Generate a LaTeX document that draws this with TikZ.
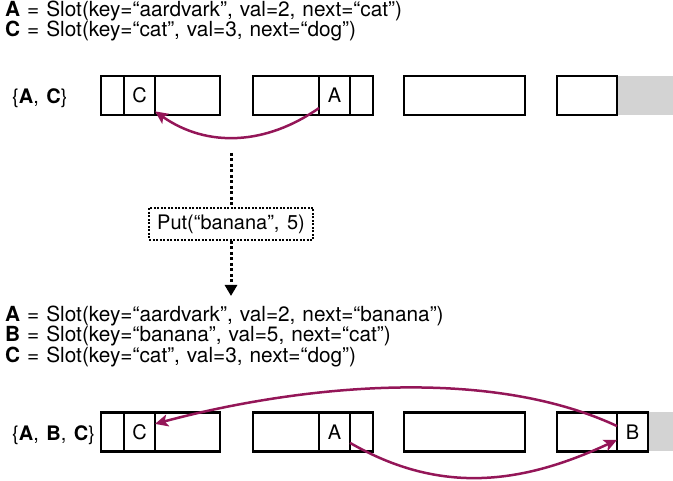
\documentclass[tikz,border=0pt]{standalone}
\usepackage{fontspec}
\setmainfont{TeX Gyre Heros}
\usetikzlibrary{arrows.meta,positioning,calc}
\definecolor{ptrcolor}{RGB}{148, 22, 88}
\definecolor{freegray}{RGB}{211, 211, 211}
\newcommand{\slotfont}{\fontsize{20}{24}\selectfont\spaceskip 7.5pt\relax}

\begin{document}
\begin{tikzpicture}[x=1pt, y=-1pt, >=Stealth,
		font=\slotfont,
		cell/.style={draw, line width=2.8pt, inner sep=0pt, outer sep=0pt, minimum height=39pt, anchor=west},
		freecell/.style={fill=freegray, inner sep=0pt, outer sep=0pt, minimum height=39pt, anchor=west},
		txt/.style={anchor=base west, inner sep=0pt},
		slottxt/.style={txt, font=\fontsize{20.8}{24}\selectfont\spaceskip 7pt\relax},
		ptr/.style={line width=2.5pt, color=ptrcolor, -{Stealth[length=13pt, width=12pt, inset=3pt]}},
		dotline/.style={line width=3pt, dash pattern=on 3pt off 2.5pt},
		opbox/.style={draw, line width=2pt, dash pattern=on 2pt off 1.5pt, minimum width=164pt, minimum height=32pt, inner sep=0pt}
		]
	\useasboundingbox (0,0) rectangle (673,481);
	
	% slots before the insert
	\node[slottxt] (slotA1) at (5,17) {\textbf{A} = Slot(key=“aardvark”, val=2, next=“cat”)};
	\node[slottxt] (slotC1) at (5,37) {\textbf{C} = Slot(key=“cat”, val=3, next=“dog”)};
	
	\node[txt] (set1) at (12,104) {\{\textbf{A}, \textbf{C}\}};
	\node[freecell, minimum width=56pt] (tab1-9) at (617,95.5) {};
	\node[cell, minimum width=23pt] (tab1-1) at (101,95.5) {};
	\node[cell, minimum width=31pt] (tab1-2) at (124,95.5) {C};
	\node[cell, minimum width=65pt] (tab1-3) at (155,95.5) {};
	\node[cell, minimum width=66pt] (tab1-4) at (253,95.5) {};
	\node[cell, minimum width=31pt] (tab1-5) at (319,95.5) {A};
	\node[cell, minimum width=23pt] (tab1-6) at (350,95.5) {};
	\node[cell, minimum width=121pt] (tab1-7) at (404,95.5) {};
	\node[cell, minimum width=60pt] (tab1-8) at (557,95.5) {};
	
	\draw [ptr] (tab1-5.219) to [out=-145, in=-35, looseness=1] (tab1-3.206);
	
	% the operation
	\coordinate (optop) at (231,153);
	\coordinate (opend) at (231,296);
	\node[opbox] (put) at (231,224) {Put(“banana”, 5)};
	\draw [dotline] (optop) -- (put.north);
	\draw [dotline, -{Triangle[length=11pt, width=12pt]}] (put.south) -- (opend);
	
	% slots after the insert
	\node[slottxt] (slotA2) at (5,322) {\textbf{A} = Slot(key=“aardvark”, val=2, next=“banana”)};
	\node[slottxt] (slotB2) at (5,342) {\textbf{B} = Slot(key=“banana”, val=5, next=“cat”)};
	\node[slottxt] (slotC2) at (5,363) {\textbf{C} = Slot(key=“cat”, val=3, next=“dog”)};
	
	\node[txt] (set2) at (12,441) {\{\textbf{A}, \textbf{B}, \textbf{C}\}};
	\node[freecell, minimum width=25pt] (tab2-10) at (648,432) {};
	\node[cell, minimum width=23pt] (tab2-1) at (101,432) {};
	\node[cell, minimum width=31pt] (tab2-2) at (124,432) {C};
	\node[cell, minimum width=65pt] (tab2-3) at (155,432) {};
	\node[cell, minimum width=66pt] (tab2-4) at (253,432) {};
	\node[cell, minimum width=31pt] (tab2-5) at (319,432) {A};
	\node[cell, minimum width=23pt] (tab2-6) at (350,432) {};
	\node[cell, minimum width=121pt] (tab2-7) at (404,432) {};
	\node[cell, minimum width=60pt] (tab2-8) at (557,432) {};
	\node[cell, minimum width=31pt] (tab2-9) at (617,432) {B};
	
	\draw [ptr] (tab2-9.159) to [out=155, in=15, looseness=0.8] (tab2-3.166);
	\draw [ptr] (tab2-5.-35) to [out=-30, in=-155, looseness=1] (tab2-9.207);
\end{tikzpicture}
\end{document}
